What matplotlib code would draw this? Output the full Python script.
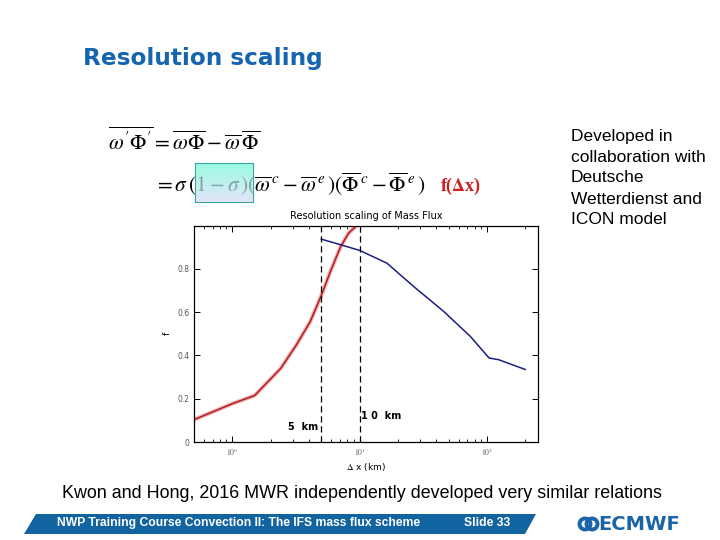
import numpy as np
import matplotlib
matplotlib.use("Agg")
from matplotlib import pyplot as plt
from matplotlib.patches import Polygon, Ellipse

# data
red_dx = [0.5, 1.0, 1.5, 2.4, 3.2, 4.1, 5.0, 5.9, 7.1, 8.2, 9.5]
red_f = [0.103, 0.177, 0.215, 0.34, 0.45, 0.557, 0.677, 0.788, 0.903, 0.965, 1.0]
blue_dx = [5.0, 7.1, 10.0, 16.4, 26.6, 45.8, 74.0, 104.0, 124.0, 153.0, 200.0]
blue_f = [0.937, 0.911, 0.885, 0.826, 0.718, 0.603, 0.488, 0.388, 0.38, 0.36, 0.335]
marks_km = [5, 10]
ytick_vals = [0, 0.2, 0.4, 0.6, 0.8]
ytick_labels = ["0", "0.2", "0.4", "0.6", "0.8"]
xtick_vals = [1, 10, 100]
xtick_labels = ["$10^0$", "$10^1$", "$10^2$"]

plt.rcParams["mathtext.fontset"] = "stix"

W, H = 720, 540
fig = plt.figure(figsize=(7.2, 5.4), dpi=100)


def px(x, y):
    return x / W, 1 - y / H


# slide title
fig.text(*px(83, 58), "Resolution scaling", fontsize=16.7, fontweight="bold",
         color="#1565b0", va="center", ha="left", family="DejaVu Sans")

# equations
fig.text(*px(108, 140), r"$\overline{\omega'\Phi'} = \overline{\omega\Phi} - \overline{\omega}\,\overline{\Phi}$",
         fontsize=15.5, va="center", ha="left")
fig.text(*px(154, 184),
         r"$= \sigma\,(1 - \sigma\,)(\overline{\omega}^{\,c} - \overline{\omega}^{\,e}\,)(\overline{\Phi}^{\,c} - \overline{\Phi}^{\,e}\,)$",
         fontsize=15.5, va="center", ha="left")
fig.text(*px(440, 186), r"f($\mathbf{\Delta}$x)", fontsize=13, fontweight="bold",
         color="#cc1f1f", va="center", ha="left", family="Liberation Serif")

# highlight box over (1 - sigma)
box = fig.add_axes([195 / W, 1 - 202 / H, 58 / W, 39 / H])
top = np.array([0.45, 0.98, 0.85])
bot = np.array([0.85, 0.86, 0.96])
t = np.linspace(0, 1, 50)[:, None]
grad = top * (1 - t) + bot * t
box.imshow(grad[:, None, :], aspect="auto", alpha=0.72)
box.set_facecolor("none")
box.set_xticks([])
box.set_yticks([])
for s in box.spines.values():
    s.set_color("#3aa89a")
box.set_zorder(5)

# right-hand note
fig.text(*px(571, 178), "Developed in\ncollaboration with\nDeutsche\nWetterdienst and\nICON model",
         fontsize=12.5, family="Liberation Sans", va="center", ha="left", linespacing=1.5)

# main chart
ax = fig.add_axes([194 / W, 1 - 442 / H, 344 / W, 216.5 / H])
ax.plot(red_dx, red_f, color="#f4b8b8", lw=3.0, solid_capstyle="round")
ax.plot(red_dx, red_f, color="#b3232a", lw=1.2)
ax.plot(blue_dx, blue_f, color="#1a1f80", lw=1.1)
for m in marks_km:
    ax.axvline(m, color="black", ls=(0, (5, 3)), lw=0.9)
ax.text(4.7, 0.07, "5  km", fontsize=7, fontweight="bold", ha="right", va="center")
ax.text(10.3, 0.12, "1 0  km", fontsize=7, fontweight="bold", ha="left", va="center")
ax.set_xscale("log")
ax.set_xlim(0.5, 252)
ax.set_ylim(0, 1)
ax.set_xticks(xtick_vals)
ax.set_xticklabels(xtick_labels)
ax.set_yticks(ytick_vals)
ax.set_yticklabels(ytick_labels)
ax.tick_params(direction="in", top=True, right=True, labelsize=5.5,
               colors="black", labelcolor="#555555", length=4, width=0.7)
ax.tick_params(which="minor", direction="in", top=True, right=True, length=2, width=0.6)
for s in ax.spines.values():
    s.set_linewidth(0.9)
ax.set_title("Resolution scaling of Mass Flux", fontsize=7, pad=5)
ax.set_xlabel(r"$\Delta$ x (km)", fontsize=6.5, labelpad=2, family="DejaVu Sans")
ax.set_ylabel("f", fontsize=6.5, labelpad=4)

# bottom remark
fig.text(*px(362, 494), "Kwon and Hong, 2016 MWR independently developed very similar relations",
         fontsize=12.9, family="Liberation Sans", ha="center", va="center")

# footer banner
banner = Polygon([px(24, 534), px(36, 514), px(536, 514), px(525, 534)],
                 closed=True, transform=fig.transFigure, facecolor="#1264a0", edgecolor="none")
fig.patches.append(banner)
fig.text(*px(57, 523), "NWP Training Course Convection II: The IFS mass flux scheme",
         fontsize=8.7, fontweight="bold", color="white", family="Liberation Sans",
         ha="left", va="center")
fig.text(*px(464, 523), "Slide 33", fontsize=8.7, fontweight="bold", color="white",
         family="Liberation Sans", ha="left", va="center")

# ECMWF logo
for cx in (585, 592):
    fig.patches.append(Ellipse(px(cx, 524), 11 / W, 11 / H, transform=fig.transFigure,
                               facecolor="none", edgecolor="#1a64a8", lw=2.8))
fig.text(*px(598, 524), "ECMWF", fontsize=14, fontweight="bold", color="#1a64a8",
         family="DejaVu Sans", ha="left", va="center")

fig.savefig("out.png", dpi=100)
